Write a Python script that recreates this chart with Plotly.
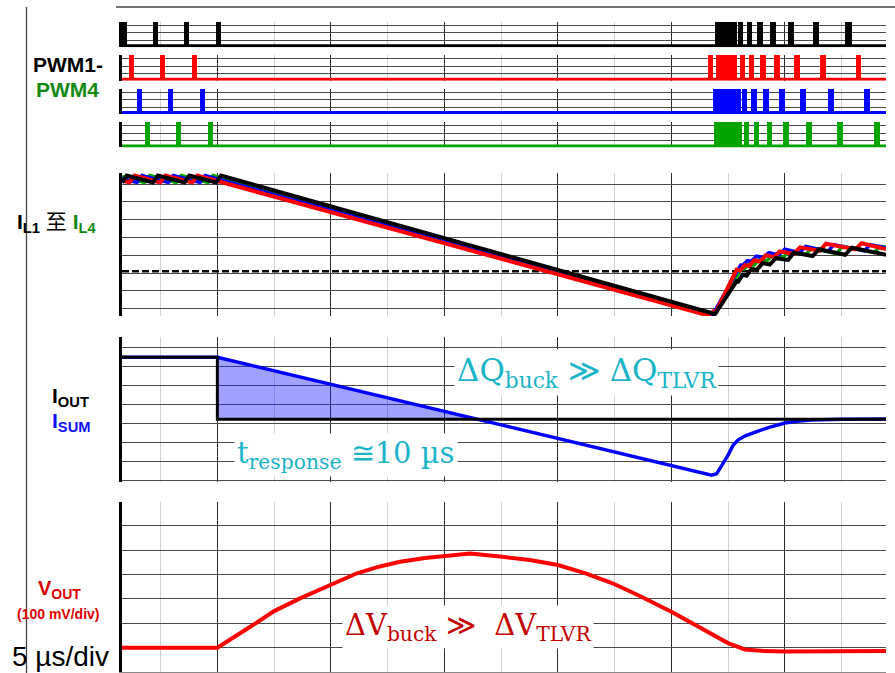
import numpy as np
import plotly.graph_objects as go

W, H = 895, 673

# ---------------- data (time in µs, amplitudes in grid divisions) ----------------
X_RANGE = [-4.2, 29.45]

# PWM pulses: start / end times (µs)
pwm1_start = [-4.20, -2.84, -1.45, -0.06, 21.92, 22.94, 23.31, 23.75, 24.33, 25.14, 26.22, 27.65]
pwm1_end = [-3.99, -2.62, -1.23, 0.16, 22.87, 23.13, 23.53, 24.02, 24.60, 25.39, 26.50, 27.95]
pwm2_start = [-3.87, -2.51, -1.10, 21.62, 21.96, 23.02, 23.42, 23.90, 24.52, 25.39, 26.54, 28.11]
pwm2_end = [-3.65, -2.29, -0.88, 21.84, 22.87, 23.24, 23.64, 24.16, 24.77, 25.66, 26.80, 28.37]
pwm3_start = [-3.54, -2.16, -0.76, 21.81, 23.12, 23.50, 24.04, 24.73, 25.66, 26.90, 28.49]
pwm3_end = [-3.32, -1.94, -0.54, 23.05, 23.34, 23.75, 24.29, 24.99, 25.91, 27.15, 28.75]
pwm4_start = [-3.20, -1.81, -0.41, 21.87, 23.19, 23.64, 24.19, 24.92, 25.92, 27.27, 28.93]
pwm4_end = [-2.98, -1.59, -0.19, 23.09, 23.43, 23.87, 24.44, 25.17, 26.17, 27.54, 29.19]
PWM_LOW, PWM_HIGH = -0.75, 2.5

# Inductor currents IL1..IL4
il1_x = [-4.20, -3.99, -2.84, -2.62, -1.45, -1.23, -0.06, 0.16, 21.92, 22.87, 22.94, 23.13, 23.31,
         23.53, 23.75, 24.02, 24.33, 24.60, 25.14, 25.39, 26.22, 26.50, 27.65, 27.95, 29.45]
il1_y = [5.09, 5.48, 5.09, 5.48, 5.09, 5.48, 5.09, 5.48, -2.30, -0.45, -0.48, -0.10, -0.15,
         0.25, 0.18, 0.56, 0.48, 0.84, 0.74, 1.15, 0.96, 1.34, 1.03, 1.43, 1.03]
il2_x = [-4.20, -3.87, -3.65, -2.51, -2.29, -1.10, -0.88, 21.62, 21.84, 21.96, 22.87, 23.02, 23.24,
         23.42, 23.64, 23.90, 24.16, 24.52, 24.77, 25.39, 25.66, 26.54, 26.80, 28.11, 28.37, 29.45]
il2_y = [5.20, 5.09, 5.48, 5.09, 5.48, 5.09, 5.48, -2.38, -2.15, -2.18, 0.20, 0.15, 0.45,
         0.40, 0.72, 0.65, 1.00, 0.90, 1.22, 1.08, 1.45, 1.25, 1.65, 1.33, 1.68, 1.35]
il3_x = [-4.20, -3.54, -3.32, -2.16, -1.94, -0.76, -0.54, 21.81, 23.05, 23.12, 23.34, 23.50, 23.75,
         24.04, 24.29, 24.73, 24.99, 25.66, 25.91, 26.90, 27.15, 28.49, 28.75, 29.45]
il3_y = [5.31, 5.09, 5.48, 5.09, 5.48, 5.09, 5.48, -2.34, 0.45, 0.42, 0.70, 0.65, 0.95,
         0.88, 1.15, 1.02, 1.35, 1.15, 1.50, 1.22, 1.60, 1.25, 1.60, 1.42]
il4_x = [-4.20, -3.20, -2.98, -1.81, -1.59, -0.41, -0.19, 21.87, 23.09, 23.19, 23.43, 23.64, 23.87,
         24.19, 24.44, 24.92, 25.17, 25.92, 26.17, 27.27, 27.54, 28.93, 29.19, 29.45]
il4_y = [5.42, 5.09, 5.48, 5.09, 5.48, 5.09, 5.48, -2.32, 0.25, 0.22, 0.50, 0.45, 0.75,
         0.68, 1.00, 0.88, 1.22, 1.05, 1.40, 1.10, 1.50, 1.15, 1.50, 1.45]
IL_ZERO = 0.1

# Output current and summed inductor current
iout_x = [-4.20, 0.0, 0.0, 29.45]
iout_y = [6.48, 6.48, 3.23, 3.23]
isum_x = [-4.20, 0.0, 21.77, 21.99, 22.28, 22.50, 22.72, 22.94, 23.25, 23.60, 23.97, 24.30,
          24.70, 25.00, 25.50, 26.17, 27.50, 29.45]
isum_y = [6.48, 6.48, 0.30, 0.37, 0.93, 1.36, 1.88, 2.15, 2.36, 2.53, 2.67, 2.80,
          2.93, 3.03, 3.12, 3.19, 3.23, 3.24]

# Output voltage (100 mV/div)
vout_x = [-4.20, 0.0, 1.57, 2.50, 3.64, 4.96, 6.15, 7.16, 8.05, 9.15, 10.25, 11.13, 12.45,
          13.77, 15.00, 16.19, 17.38, 18.61, 20.02, 21.26, 22.49, 23.24, 24.12, 25.00, 27.00, 29.45]
vout_y = [0.0, 0.0, 0.93, 1.50, 2.02, 2.57, 3.05, 3.33, 3.52, 3.68, 3.80, 3.86, 3.74,
          3.59, 3.39, 3.06, 2.65, 2.12, 1.46, 0.84, 0.19, -0.07, -0.14, -0.16, -0.15, -0.14]

# ---------------- colours ----------------
BLACK, RED, BLUE, GREEN = "#000000", "#ff0000", "#0000ff", "#00a400"
LBL_GREEN = "#138a13"
CYAN = "#1ab4c8"
DARKRED = "#c40000"


def py(p):
    return 1 - p / H


def pxx(p):
    return p / W


fig = go.Figure()

# ---------------- PWM rows (subplots 1..4) ----------------
pwm_sets = [(pwm1_start, pwm1_end, BLACK), (pwm2_start, pwm2_end, RED),
            (pwm3_start, pwm3_end, BLUE), (pwm4_start, pwm4_end, GREEN)]
for i, (st, en, col) in enumerate(pwm_sets):
    k = i + 1
    st = np.array(st)
    en = np.array(en)
    fig.add_trace(go.Bar(x=(st + en) / 2, y=[PWM_HIGH - PWM_LOW] * len(st), base=PWM_LOW,
                         width=en - st, marker=dict(color=col, line=dict(width=0)),
                         xaxis=f"x{k}", yaxis=f"y{k}", showlegend=False))
    fig.add_trace(go.Scatter(x=X_RANGE, y=[PWM_LOW, PWM_LOW], mode="lines",
                             line=dict(color=col, width=3), xaxis=f"x{k}", yaxis=f"y{k}",
                             showlegend=False))

# ---------------- inductor currents (subplot 5) ----------------
fig.add_trace(go.Scatter(x=X_RANGE, y=[IL_ZERO, IL_ZERO], mode="lines",
                         line=dict(color="black", width=2.5, dash="7px,3px"),
                         xaxis="x5", yaxis="y5", showlegend=False))
for xs, ys, col, wdt in [(il4_x, il4_y, GREEN, 3.5), (il3_x, il3_y, BLUE, 3.5),
                         (il2_x, il2_y, RED, 4), (il1_x, il1_y, BLACK, 4)]:
    fig.add_trace(go.Scatter(x=xs, y=ys, mode="lines", line=dict(color=col, width=wdt),
                             xaxis="x5", yaxis="y5", showlegend=False))

# ---------------- Iout / Isum (subplot 6) ----------------
lo = iout_y[-1]
x1, x2, y1, y2 = isum_x[1], isum_x[2], isum_y[1], isum_y[2]
xc = x1 + (y1 - lo) / (y1 - y2) * (x2 - x1)
fig.add_trace(go.Scatter(x=[iout_x[1], xc, iout_x[1]], y=[isum_y[1], lo, lo], fill="toself",
                         fillcolor="rgba(30,30,255,0.42)", mode="lines", line=dict(width=0),
                         xaxis="x6", yaxis="y6", showlegend=False))
fig.add_trace(go.Scatter(x=isum_x, y=isum_y, mode="lines", line=dict(color=BLUE, width=3.5),
                         xaxis="x6", yaxis="y6", showlegend=False))
fig.add_trace(go.Scatter(x=iout_x, y=iout_y, mode="lines", line=dict(color=BLACK, width=3),
                         xaxis="x6", yaxis="y6", showlegend=False))

# ---------------- Vout (subplot 7) ----------------
fig.add_trace(go.Scatter(x=vout_x, y=vout_y, mode="lines",
                         line=dict(color=RED, width=4),
                         xaxis="x7", yaxis="y7", showlegend=False))

# ---------------- axes ----------------
domains = {}
for i in range(4):
    b = 45.7 + 33.43 * i
    domains[i + 1] = ([py(b + 1.5), py(b - 24.05)], [-0.95, PWM_HIGH])
domains[5] = ([py(316), py(173)], [(273.1 - 316) / 17.8, (273.1 - 173) / 17.8])
domains[6] = ([py(482), py(336.7)], [-0.06, 7.555])
domains[7] = ([py(671.5), py(501.7)], [(647.7 - 671.5) / 24.4, (647.7 - 501.7) / 24.4])

layout_axes = {}
for k, (dom, rng) in domains.items():
    layout_axes[f"xaxis{k}"] = dict(
        domain=[pxx(122), pxx(886)], range=X_RANGE, anchor=f"y{k}",
        showgrid=True, gridcolor="#2a2a2a", gridwidth=1.2, tick0=0, dtick=5,
        minor=dict(tick0=0, dtick=2.5, showgrid=True, gridcolor="#d0d0d0", gridwidth=1.2),
        showticklabels=False, ticks="", zeroline=False,
        showline=(k == 7), linecolor="#8a8a8a", linewidth=1.5, fixedrange=True)
    layout_axes[f"yaxis{k}"] = dict(
        domain=dom, range=rng, anchor=f"x{k}",
        showgrid=True, gridcolor="#4a4a4a", gridwidth=1, tick0=0, dtick=1,
        showticklabels=False, ticks="", zeroline=False,
        showline=True, linecolor="black", linewidth=3, fixedrange=True)

shapes = [
    dict(type="line", xref="paper", yref="paper", x0=pxx(26.5), x1=pxx(26.5), y0=0, y1=py(7),
         line=dict(color="#444", width=1.3)),
    dict(type="line", xref="paper", yref="paper", x0=pxx(116), x1=1, y0=py(7), y1=py(7),
         line=dict(color="#444", width=1.3)),
]

SANS = "Liberation Sans, Arial, Noto Sans CJK SC, sans-serif"
SERIF = "DejaVu Serif, Liberation Serif, serif"
ann = []


def add_text(text, x, y, size, color, xanchor="center", yanchor="middle", family=SANS, **kw):
    ann.append(dict(text=text, x=x, y=y, xref="paper", yref="paper", xanchor=xanchor,
                    yanchor=yanchor, showarrow=False, font=dict(family=family, size=size, color=color), **kw))


add_text("<b>PWM1-</b>", pxx(67.5), py(64), 21, BLACK)
add_text("<b>PWM4</b>", pxx(67.5), py(90), 21, LBL_GREEN)
add_text(f"<b>I<sub>L1</sub></b> 至 <b><span style='color:{LBL_GREEN}'>I<sub>L4</sub></span></b>",
         pxx(56), py(223), 21, BLACK)
add_text("<b>I<sub>OUT</sub></b>", pxx(50), py(397), 21, BLACK, xanchor="left")
add_text("<b>I<sub>SUM</sub></b>", pxx(50), py(422), 21, "#1010ff", xanchor="left")
add_text("<b>V<sub>OUT</sub></b>", pxx(59.5), py(589), 20, "#dd0000")
add_text("<b>(100 mV/div)</b>", pxx(58), py(614), 14, "#dd0000")
add_text("5 µs/div", pxx(60), 0, 28, BLACK, yanchor="bottom", borderpad=0)

add_text("ΔQ<sub>buck</sub> ≫ ΔQ<sub>TLVR</sub>", pxx(586), py(372), 31, CYAN,
         family=SERIF, bgcolor="white", borderpad=2)
add_text("t<sub>response</sub> ≅10 µs", pxx(346), py(455), 29, CYAN,
         family=SERIF, bgcolor="white", borderpad=2)
add_text("ΔV<sub>buck</sub> ≫\u00a0 ΔV<sub>TLVR</sub>", pxx(468), py(627), 29, DARKRED,
         family=SERIF, bgcolor="white", borderpad=2)

fig.update_layout(
    width=W, height=H, margin=dict(l=0, r=0, t=0, b=0),
    paper_bgcolor="white", plot_bgcolor="white",
    barmode="overlay", bargap=0, showlegend=False,
    shapes=shapes, annotations=ann, **layout_axes)

fig.write_html("out.html", config={"displayModeBar": False},
               post_script="document.body.style.margin='0';")
